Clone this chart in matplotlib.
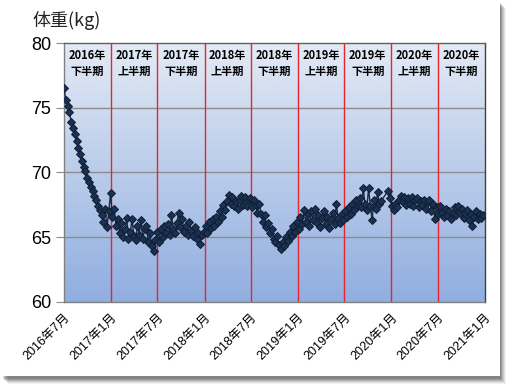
import numpy as np
import pandas as pd
import matplotlib
matplotlib.use("Agg")
from matplotlib import pyplot as plt
from matplotlib.patches import Rectangle
from matplotlib.colors import LinearSegmentedColormap
import matplotlib.dates as mdates

plt.rcParams['font.family'] = ['Liberation Sans', 'Noto Sans CJK JP']

# weekly weight readings starting 2016-07-01 (nan = no reading that week)
w_2016h2 = [76.5, 75.6, 75.1, 74.7, 73.9, 73.4, 73.0, 72.4, 71.9, 71.4, 70.9, 70.4, 70.1,
            69.6, 69.3, 68.9, 68.6, 68.2, 67.9, 67.4, 67.1, 66.7, 66.2, 67.2, 65.8, 67.0]
w_2017h1 = [68.4, 66.6, 67.2, 65.9, 66.4, 65.3, 66.1, 65.0, 65.6, 66.5, 64.9, 65.4, 66.4,
            65.1, 64.8, 65.9, 65.2, 66.3, 64.9, 65.6, 65.9, 64.6, 65.3, 64.3, 63.9, 64.8]
w_2017h2 = [65.4, 64.6, 65.6, 65.0, 65.9, 65.3, 66.0, 65.2, 66.7, 65.6, 65.3, 66.1, 66.9,
            65.8, 66.4, 65.4, 65.9, 65.2, 66.2, 65.5, 65.1, 65.8, 64.9, 65.3, 64.5, 65.2]
w_2018h1 = [65.4, 65.9, 65.3, 66.2, 65.7, 66.4, 65.9, 66.6, 66.2, 67.0, 66.6, 67.5, 67.1,
            67.8, 68.3, 67.6, 68.1, 67.4, 67.8, 67.2, 67.9, 68.2, 67.5, 68.1, 67.4, 67.9]
w_2018h2 = [68.0, 67.3, 67.9, 67.5, 66.9, 67.6, 66.8, 66.2, 66.7, 65.8, 66.1, 65.3, 65.6,
            64.9, 64.6, 65.1, 64.4, 64.1, 64.6, 64.3, 65.0, 64.7, 65.4, 65.1, 65.9, 65.4]
w_2019h1 = [66.2, 65.6, 66.6, 66.0, 67.1, 66.2, 66.8, 65.9, 67.0, 66.3, 67.2, 66.1, 66.7,
            65.8, 66.5, 67.0, 66.0, 66.6, 65.7, 66.4, 66.9, 66.0, 67.6, 66.5, 66.1, 66.8]
w_2019h2 = [66.3, 67.0, 66.6, 67.3, 66.8, 67.6, 67.1, 67.9, 67.4, 68.0, 67.3, 68.8, 67.6,
            67.1, 68.8, 67.4, 66.3, 67.9, 67.2, 68.5, 67.6, 67.8, np.nan, np.nan, np.nan, 68.6]
w_2020h1 = [68.0, 67.4, 67.1, 67.6, 67.3, 67.9, 68.2, 67.7, 68.1, 67.5, 68.0, 67.6, 68.1,
            67.4, 67.9, 68.0, 67.3, 67.8, 67.5, 67.9, 67.2, 67.7, 67.9, 67.0, 67.6, 66.4]
w_2020h2 = [67.3, 66.8, 67.4, 66.9, 66.6, 67.2, 66.7, 67.0, 66.4, 66.9, 67.3, 66.7, 67.4,
            66.9, 67.2, 66.5, 66.9, 67.1, 66.3, 66.8, 65.9, 66.6, 67.0, 66.4, 66.8, 66.5, 66.7]

weights = np.array(w_2016h2 + w_2017h1 + w_2017h2 + w_2018h1 + w_2018h2
                   + w_2019h1 + w_2019h2 + w_2020h1 + w_2020h2)
dates = pd.date_range('2016-07-01', periods=len(weights), freq='7D')

half_starts = ['2016-07-01', '2017-01-01', '2017-07-01', '2018-01-01', '2018-07-01',
               '2019-01-01', '2019-07-01', '2020-01-01', '2020-07-01', '2021-01-01']
tick_labels = ['2016年7月', '2017年1月', '2017年7月', '2018年1月', '2018年7月',
               '2019年1月', '2019年7月', '2020年1月', '2020年7月', '2021年1月']
period_labels = ['2016年\n下半期', '2017年\n上半期', '2017年\n下半期', '2018年\n上半期', '2018年\n下半期',
                 '2019年\n上半期', '2019年\n下半期', '2020年\n上半期', '2020年\n下半期']

fig = plt.figure(figsize=(5.18, 3.92), dpi=100)
fig.patch.set_facecolor('white')

# card shadow + card
W, H = 518.0, 392.0
for i, a in enumerate([0.05, 0.07, 0.09, 0.11, 0.13, 0.15]):
    off = 6 - i
    fig.add_artist(Rectangle(((2 + off) / W, (H - 378 - off) / H), 498 / W, 376 / H,
                             transform=fig.transFigure, facecolor='black', alpha=a,
                             edgecolor='none', zorder=0))
fig.add_artist(Rectangle((0, (H - 376) / H), 500 / W, 376 / H, transform=fig.transFigure,
                         facecolor='white', edgecolor='none', zorder=0.5))

ax = fig.add_axes([64 / W, 1 - 302 / H, 421 / W, 259 / H])
ax.set_zorder(2)
ax.patch.set_alpha(0)

x0 = mdates.date2num(pd.Timestamp(half_starts[0]))
x1 = mdates.date2num(pd.Timestamp(half_starts[-1]))
grad = np.linspace(0, 1, 256).reshape(-1, 1)
cmap = LinearSegmentedColormap.from_list('bg', ['#e3eaf5', '#90aee0'])
ax.imshow(grad, extent=[x0, x1, 60, 80], aspect='auto', cmap=cmap, origin='upper', zorder=0)

for y in [65, 70, 75]:
    ax.axhline(y, color='#8c8c8c', lw=1, zorder=1)
for d in half_starts[1:-1]:
    ax.axvline(pd.Timestamp(d), color='#e8252f', lw=1, zorder=2)

mask = ~np.isnan(weights)
ax.plot(dates[mask], weights[mask], color='#182a45', lw=1, marker='D', ms=3.6,
        mfc='#1a3152', mec='#0f1e33', mew=0.7, zorder=3)

mids = [pd.Timestamp(half_starts[i]) + (pd.Timestamp(half_starts[i + 1]) - pd.Timestamp(half_starts[i])) / 2
        for i in range(len(period_labels))]
for m, lab in zip(mids, period_labels):
    ax.text(m, 79.5, lab, ha='center', va='top', fontsize=8, fontweight='bold',
            family=['Noto Sans CJK JP'], linespacing=1.2, zorder=4)

ax.set_xlim(x0, x1)
ax.set_ylim(60, 80)
ax.set_yticks([60, 65, 70, 75, 80])
ax.set_xticks([pd.Timestamp(d) for d in half_starts])
ax.set_xticklabels(tick_labels, rotation=45, ha='right', va='top', rotation_mode='anchor', fontsize=9)
ax.tick_params(axis='y', labelsize=13, length=6, color='#8c8c8c', pad=3)
ax.tick_params(axis='x', length=0, pad=7)
for s in ax.spines.values():
    s.set_color('#808080')
    s.set_linewidth(1)
ax.spines['right'].set_color('#404040')
ax.spines['top'].set_color('#606060')

fig.text(32 / W, 1 - 21 / H, '体重(kg)', ha='left', va='center', fontsize=13,
         family=['Noto Sans CJK JP'], color='#222222')

fig.savefig('out.png', dpi=100)
